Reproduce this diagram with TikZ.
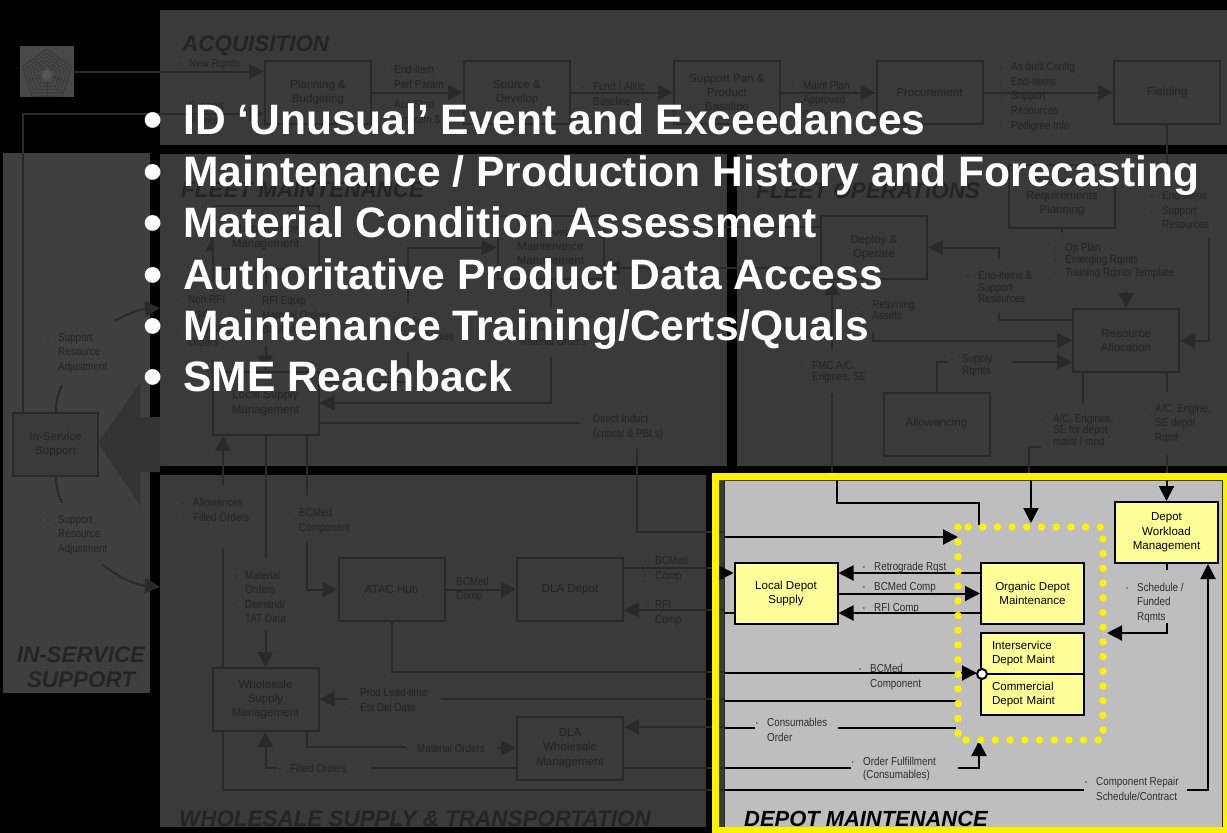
\documentclass[tikz,border=0pt]{standalone}
\usepackage{fontspec}
\setmainfont{Liberation Sans}
\newfontfamily\narrowfont[FakeStretch=0.85]{Liberation Sans}
\usetikzlibrary{arrows.meta}
\definecolor{panel}{HTML}{3A3A3A}
\definecolor{panelb}{HTML}{3F3F3F}
\definecolor{iconc}{HTML}{484848}
\definecolor{blockc}{HTML}{343434}
\definecolor{dimline}{HTML}{2A2A2A}
\definecolor{dimtext}{HTML}{252525}
\definecolor{depotc}{HTML}{BEBEBE}
\definecolor{boxy}{HTML}{FFFF99}
\definecolor{deptext}{HTML}{2E2E2E}
\newcommand{\blt}{\makebox[11bp][l]{\fontsize{6}{6}\selectfont\raisebox{1bp}{•}}}
\newcommand{\nbl}{\hspace*{11bp}}

\begin{document}
\begin{tikzpicture}[x=1bp,y=-1bp,
box/.style={draw=dimline,line width=2bp,fill=panel,text=dimtext,minimum width=106bp,minimum height=63bp,inner sep=0pt,align=center,font=\fontsize{11.6}{14.5}\selectfont},
ybox/.style={box,draw=black,fill=boxy,text=black,minimum width=103bp,minimum height=61bp},
lab/.style={inner sep=0pt,anchor=west,align=left,text=dimtext,font=\narrowfont\fontsize{11.6}{14.6}\selectfont},
dense/.style={lab,font=\narrowfont\fontsize{11.6}{11.6}\selectfont},
dlab/.style={lab,text=deptext},
title/.style={inner sep=0pt,anchor=base west,text=dimtext,font=\bfseries\itshape\fontsize{22.5}{25}\selectfont},
bigtext/.style={inner sep=0pt,anchor=base west,text=white,font=\bfseries\fontsize{42.7}{45}\selectfont},
bigdot/.style={inner sep=0pt,anchor=base,text=white,font=\bfseries\fontsize{55}{55}\selectfont},
ln/.style={draw=dimline,line width=2bp},
ar/.style={ln,-{Triangle[length=15bp,width=15bp]}},
bl/.style={ln,draw=black},
bar/.style={bl,-{Triangle[length=15bp,width=15bp]}}]
\useasboundingbox (0,0) rectangle (1227,833);
\fill[black] (0,0) rectangle (1227,833);

%the dimmed panels
\fill[panel] (160,10) rectangle (1227,145);
\fill[panelb] (3,153) rectangle (150,693);
\fill[panel] (160,154) rectangle (727,466);
\fill[panel] (737,154) rectangle (1227,466);
\fill[panel] (160,475) rectangle (706,827);
\fill[panel] (719,480) rectangle (724,827);
\fill[blockc] (98,443) -- (140,383) -- (140,417) -- (160,417) -- (160,472) -- (140,472) -- (140,505) -- cycle;

%free ends of the dimmed connectors
\foreach \n/\x/\y in {rq/23/114,ei/1167/168,ea/1209/238,da/999/259,db/999/313,dc/1073/320,ret/873/332,fa/832/350,fb/832/393,fc/832/473,
	sa/948/362,sb/1012/362,oa/1062/233,ob/1126/291,ra/1083/403,rb/1167/392,rc/1041/447,rd/1029/473,re/1167/455,rf/1167/473,
	na/213/282,nb/213/236,nc/213/360,nd/213/372,ma/265.5/285,mb/265.5/346,ca/408/303,cb/408/352,cc/318/382,ua/550.5/308,ub/550.5/357,
	ia/580/423,ib/637/449,ic/724/532,pa/821/268,pb/640/227,pc/821/227,
	sua/56/413,sub/62/385,suc/114/321,sud/160/308,sue/56/476,suf/62/503,sug/103/565,suh/160/587,
	ala/223/485,alb/223/548,alc/724/790,moa/265.5/558,mob/265.5/630,bca/307/495,bcb/307/542,
	dla/724/568,dlb/724/610,aba/724/672,pla/724/699,plb/441/699,plc/348/699,mta/307/747,mtb/406/747,mtc/498/748,
	dwa/724/727,dwb/371/768,dwc/724/768,foa/277/768}
	\coordinate (\n) at (\x,\y);

%icon top left
\node[fill=iconc,minimum width=54bp,minimum height=51bp,inner sep=0pt] (pent) at (47,71.5) {};
\foreach \r in {10,14,18,22,26}
	\draw[draw=panel,line width=1bp,shift={(47,75)}] (270:\r) -- (342:\r) -- (54:\r) -- (126:\r) -- (198:\r) -- cycle;
\foreach \a in {306,18,90,162,234}
	\draw[draw=panel,line width=1bp,shift={(47,75)}] (\a:6) -- (\a:21);
\fill[gray!40!panel] (47,75) circle (5);

%arrows half under a box go first
\draw[ar] (na) -- (nb);
\draw[ln] (nc) -- (nd);
\draw[ln] (alb) |- (alc);

%acquisition
\node[box] (plan) at (318,92.5) {Planning \&\\Budgeting};
\node[box] (source) at (517,92.5) {Source \&\\Develop};
\node[box] (supp) at (727,92.5) {Support Pan \&\\Product\\Baseline};
\node[box] (proc) at (929.5,92.5) {Procurement};
\node[box] (field) at (1167,92.5) {Fielding};

%fleet maintenance
\node[box] (mmgt) at (265.5,237) {Maintenance\\Management};
\node[box] (ilevel) at (550.5,247.5) {I-Level\\Maintenance\\Management};
\node[box] (lsup) at (265.5,403) {Local Supply\\Management};

%fleet operations
\node[box] (oprq) at (1062,196.5) {Operational\\Requirements\\Planning};
\node[box] (deploy) at (874,247.5) {Deploy \&\\Operate};
\node[box] (alloc) at (1126,340.5) {Resource\\Allocation};
\node[box] (allow) at (936.5,424) {Allowancing};

%in-service support
\node[box,minimum width=85bp] (isup) at (55.5,444.5) {In-Service\\Support};

%wholesale supply
\node[box] (wsup) at (265.5,699.5) {Wholesale\\Supply\\Management};
\node[box] (atac) at (391.5,589.5) {ATAC Hub};
\node[box] (dladep) at (570,589.5) {DLA Depot};
\node[box] (dlaw) at (570,748) {DLA\\Wholesale\\Management};

%connectors of the dimmed part
\draw[ar] (pent.east) -- (pent.east -| plan.west);
\draw[ar] (isup.north -| rq) |- (plan.west |- rq);
\draw[ar] (plan) -- (source);
\draw[ar] (source) -- (supp);
\draw[ar] (supp) -- (proc);
\draw[ar] (proc) -- (field);
\draw[ln] (field.south) -- (ei);
\draw[ar] (ea) |- (alloc.east);
\draw[ar] (da) |- (deploy.east);
\draw[ln] (db) |- (dc);
\draw[ar] (ret) |- (alloc.west);
\draw[ar] (fa) -- (deploy.south -| fa);
\draw[ln] (fb) -- (fc);
\draw[ln] (allow.north) |- (sa);
\draw[ar] (sb) -- (sb -| alloc.west);
\draw[ln] (oprq.south) -- (oa);
\draw[ar] (ob) -- (alloc.north);
\draw[ln] (alloc.south -| ra) -- (ra);
\draw[ln] (alloc.south -| rb) -- (rb);
\draw[ln] (rc) -| (rd);
\draw[ln] (re) -- (rf);
\draw[ln] (mmgt.south) -- (ma);
\draw[ar] (mb) -- (lsup.north);
\draw[ar] (ca) |- (ilevel.west);
\draw[ln] (cb) |- (cc);
\draw[ln] (ilevel.south) -- (ua);
\draw[ar] (ub) |- (lsup.east);
\draw[ln] (lsup.east |- ia) -- (ia);
\draw[ln] (ib) |- (ic);
\draw[ar] (pa) -- (ilevel.east |- pa);
\draw[ln] (pb) -- (pc);
\draw[ln] (sua) to[bend left=12] (sub);
\draw[ar] (suc) to[bend left=12] (sud);
\draw[ln] (sue) to[bend right=12] (suf);
\draw[ar] (sug) to[bend right=16] (suh);
\draw[ar] (ala) -- (lsup.south -| ala);
\draw[ln] (lsup.south) -- (moa);
\draw[ar] (mob) -- (wsup.north);
\draw[ln] (lsup.south -| bca) -- (bca);
\draw[ar] (bcb) |- (atac.west);
\draw[ar] (atac) -- (dladep);
\draw[ln] (dladep.east |- dla) -- (dla);
\draw[ar] (dlb) -- (dladep.east |- dlb);
\draw[ln] (atac.south) |- (aba);
\draw[ln] (pla) -- (plb);
\draw[ar] (plc) -- (wsup.east |- plc);
\draw[ln] (wsup.south -| mta) |- (mtb);
\draw[ar] (mtc) -- (dlaw.west);
\draw[ar] (dwa) -- (dlaw.east |- dwa);
\draw[ln] (dlaw.west |- dwb) -- (dwb);
\draw[ln] (dlaw.east |- dwc) -- (dwc);
\draw[ar] (foa) -| (wsup.south);

%dimmed labels
\node[lab] (lnew) at (178,65) {\blt New Rqmts};
\node[lab] (lsrq) at (178,114) {\blt Support\\\nbl Rqmts};
\node[lab] (lend) at (383,77) {\blt End-Item\\\nbl Perf Param};
\node[lab] (lacq) at (383,113) {\blt Acq Strat\\\nbl Program \$};
\node[lab] (lfund) at (582,94) {\blt Fund / Alloc\\\nbl Baseline};
\node[lab] (lmnt) at (792,101) {\blt Maint Plan\\\blt Approved\\\nbl Config};
\node[lab] (lasb) at (1000,97) {\blt As-built Config\\\blt End-Items\\\blt Support\\\nbl Resources\\\blt Pedigree Info};
\node[lab] (leit) at (1151,210) {\blt End-Items\\\blt Support\\\nbl Resources};
\node[lab,font=\narrowfont\fontsize{11.6}{13}\selectfont] (lop) at (1054,261) {\blt Op Plan\\\blt Emerging Rqmts\\\blt Training Rqmts Template};
\node[dense] (lei2) at (967,287) {\blt End-Items \&\\\nbl Support\\\nbl Resources};
\node[dense] (lret) at (861,310) {\blt Returning\\\nbl Assets};
\node[dense] (lfmc) at (801,372) {\blt FMC A/C,\\\nbl Engines, SE};
\node[dense] (lsr) at (951,365.5) {\blt Supply\\\nbl Rqmts};
\node[dense] (lac1) at (1042,429.5) {\blt A/C, Engines,\\\nbl SE for depot\\\nbl maint / mod};
\node[lab] (lac2) at (1144,424) {\blt A/C, Engine,\\\nbl SE depot\\\nbl Rqmt};
\node[lab] (lnon) at (177,321) {\blt Non-RFI\\\nbl Equip\\\blt Material\\\nbl Orders};
\node[lab] (lrfi) at (251,315) {\blt RFI Equip\\\blt Material Orders\\\blt BCMed};
\node[lab] (lcon) at (383,329) {\blt BCMed\\\blt Consumables};
\node[lab] (lrfc) at (508,334) {\blt RFI Comp\\\blt Material Orders};
\node[lab] (ldir) at (582,427) {\blt Direct Induct\\\nbl (critical \& PBLs)};
\node[lab] (lsu1) at (47,353) {\blt Support\\\nbl Resource\\\nbl Adjustment};
\node[lab] (lsu2) at (47,535) {\blt Support\\\nbl Resource\\\nbl Adjustment};
\node[lab] (lall) at (182,510) {\blt Allowances\\\blt Filled Orders};
\node[lab] (lbcm) at (288,521) {\blt BCMed\\\nbl Component};
\node[lab] (lmat) at (234,597) {\blt Material\\\nbl Orders\\\blt Demand/\\\nbl TAT Data};
\node[lab] (lbc2) at (456,589.5) {BCMed\\Comp};
\node[lab] (lbc3) at (644,569) {\blt BCMed\\\blt Comp};
\node[lab] (lrf2) at (644,613) {\blt RFI\\\nbl Comp};
\node[lab] (lprd) at (349,700) {\blt Prod Lead-time\\\blt Est Del Date};
\node[lab] (lmo2) at (406,748) {\blt Material Orders};
\node[lab] (lfo) at (279,768) {\blt Filled Orders};

%panel titles
\node[title] (tacq) at (182,51) {ACQUISITION};
\node[title] (tfm) at (181,197) {FLEET MAINTENANCE};
\node[title] (tfo) at (756,198) {FLEET OPERATIONS};
\node[title,anchor=base,align=center] (tis) at (81,662) {IN-SERVICE};
\node[title,anchor=base,align=center] (tis2) at (81,687) {SUPPORT};
\node[title] (twh) at (179,826) {WHOLESALE SUPPLY \& TRANSPORTATION};

%the highlighted part
\filldraw[fill=depotc,draw=dimline,line width=.5bp] (724,480) rectangle (1222.5,827);

\node[ybox] (ldep) at (786,593.5) {Local Depot\\Supply};
\node[ybox] (odm) at (1032.5,593.5) {Organic Depot\\Maintenance};
\node[ybox,minimum height=41bp,text width=81bp,inner xsep=11bp,minimum width=103bp,align=left] (ism) at (1032.5,653.5) {Interservice\\Depot Maint};
\node[ybox,minimum height=41bp,text width=81bp,inner xsep=11bp,minimum width=103bp,align=left] (cdm) at (1032.5,694.5) {Commercial\\Depot Maint};
\node[ybox] (dwm) at (1166.5,532.5) {Depot\\Workload\\Management};

\foreach \n/\x/\y in {ka/837/480,kb/979/503,kc/979/525,kd/724/537,ke/958/537,kf/724/573,kg/724/613,kh/981/573,ki/981/613,
	kj/724/673,kk/977/673,kl/724/701,km/956/701,kn/724/728,ko/755/728,kp/838/728,kq/956/728,kr/724/768,ks/851/768,kt/958/768,ku/979/741,
	kv/724/790,kw/1084/790,kx/1187/790,ky/1208/564,kz/1031/480,la/1031/523,lb/1166.5/480,lc/1166.5/570,ld/1166.5/623,le/1107/633}
	\coordinate (\n) at (\x,\y);

\draw[bl] (ka) |- (kb) -- (kc);
\draw[bar] (kd) -- (ke);
\draw[bar] (kf) -- (kf -| ldep.west);
\draw[bl] (kg) -- (kg -| ldep.west);
\draw[bar] (kh) -- (kh -| ldep.east);
\draw[bar] (ldep.east) -- (odm.west);
\draw[bar] (ki) -- (ki -| ldep.east);
\draw[bar] (kj) -- (kk);
\draw[bl] (kl) -- (km);
\draw[bl] (kn) -- (ko);
\draw[bl] (kp) -- (kq);
\draw[bl] (kr) -- (ks);
\draw[bar] (kt) -| (ku);
\draw[bl] (kv) -- (kw);
\draw[bar] (kx) -| (ky);
\draw[bar] (kz) -- (la);
\draw[bar] (lb) -- (dwm.north);
\draw[bl] (dwm.south) -- (lc);
\draw[bar] (ld) |- (le);

\node[circle,draw=black,fill=white,line width=2bp,minimum size=10bp,inner sep=0pt] (jn) at (982,674) {};

%dotted frame round the depots
\foreach \x in {968,982.7,...,1101} \fill[yellow] (\x,527) circle (3.7);
\foreach \x in {966,980.7,...,1099} \fill[yellow] (\x,740) circle (3.7);
\foreach \y in {542,556.7,...,734} \fill[yellow] (958,\y) circle (3.7);
\foreach \y in {539,553.7,...,731} \fill[yellow] (1103,\y) circle (3.7);
\fill[yellow] (958,527) circle (3.7);

\node[dlab] (dret) at (863,568) {\blt Retrograde Rqst};
\node[dlab] (dbc1) at (863,588) {\blt BCMed Comp};
\node[dlab] (drfi) at (863,609) {\blt RFI Comp};
\node[dlab] (dbc2) at (859,677) {\blt BCMed\\\nbl Component};
\node[dlab] (dcon) at (756,730) {\blt Consumables\\\nbl Order};
\node[dlab,font=\narrowfont\fontsize{11.6}{12.5}\selectfont] (dord) at (852,769) {\blt Order Fulfillment\\\nbl (Consumables)};
\node[dlab] (drep) at (1085,789) {\blt Component Repair\\\nbl Schedule/Contract};
\node[dlab] (dsch) at (1126,603) {\blt Schedule /\\\nbl Funded\\\nbl Rqmts};
\node[title,text=black,font=\bfseries\itshape\fontsize{22}{25}\selectfont] (tdep) at (744,826) {DEPOT MAINTENANCE};

%yellow frame
\fill[yellow,even odd rule] (712,473) rectangle (1227,833) (719,480) rectangle (1223,827);

%white list on top
\foreach \i/\y/\t in {1/134/{ID ‘Unusual’ Event and Exceedances},2/186/{Maintenance / Production History and Forecasting},3/237/{Material Condition Assessment},4/289/{Authoritative Product Data Access},5/340/{Maintenance Training/Certs/Quals},6/391/{SME Reachback}}{
	\node[bigdot] (b\i) at (153,\y+4) {•};
	\node[bigtext] (t\i) at (183,\y) {\t};
}
\end{tikzpicture}
\end{document}
